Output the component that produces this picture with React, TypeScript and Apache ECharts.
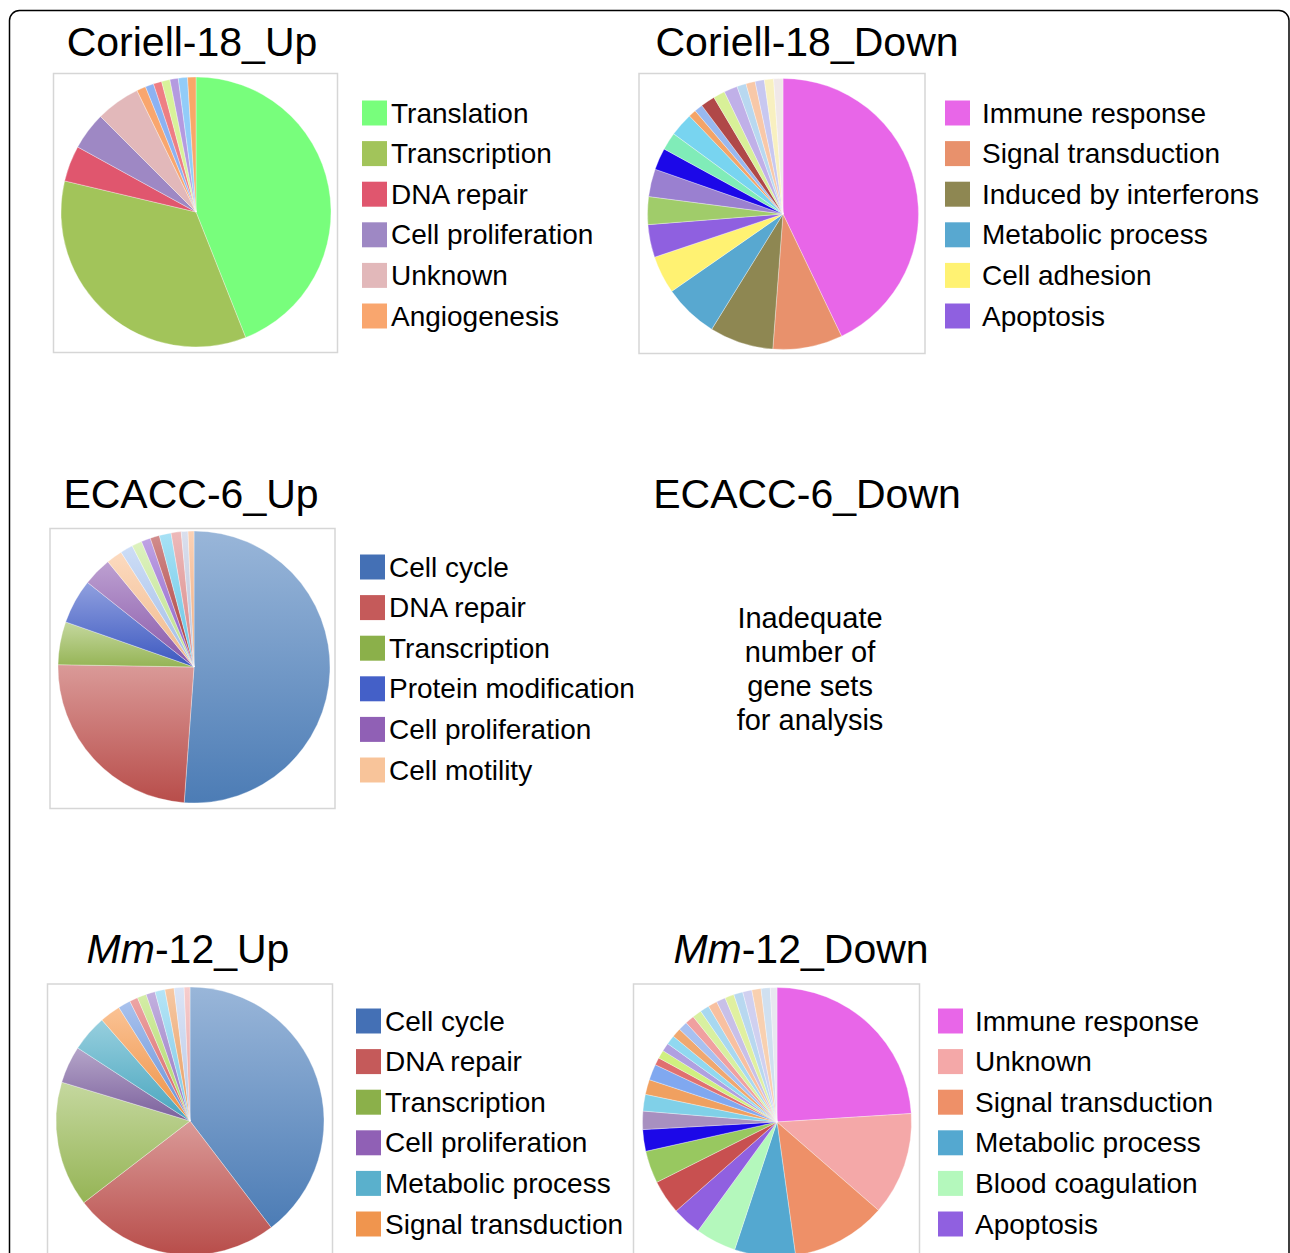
import React, { useEffect, useRef } from "react";
import * as echarts from "echarts";

const FONT = "'Liberation Sans', Arial, Helvetica, sans-serif";

// ---------- Coriell-18_Up ----------
const c18UpNames = ["Translation", "Transcription", "DNA repair", "Cell proliferation", "Unknown", "Angiogenesis",
  "Other a1", "Other a2", "Other a3", "Other a4", "Other a5", "Other a6"];
const c18UpValues = [44.0, 34.7, 4.3, 4.5, 5.3, 1.1, 1.0, 1.0, 1.0, 1.0, 1.1, 1.0];
const c18UpColors = ["#78FE7C", "#A2C45A", "#E0566E", "#9E88C4", "#E2B8BA", "#F9A66E",
  "#8CB2F2", "#EE7E84", "#D8F29A", "#B49AE0", "#92CCF8", "#F8A868"];

// ---------- Coriell-18_Down ----------
const c18DownNames = ["Immune response", "Signal transduction", "Induced by interferons", "Metabolic process", "Cell adhesion", "Apoptosis",
  "Other b1", "Other b2", "Other b3", "Other b4", "Other b5", "Other b6", "Other b7", "Other b8", "Other b9",
  "Other b10", "Other b11", "Other b12", "Other b13", "Other b14", "Other b15"];
const c18DownValues = [42.8, 8.3, 7.6, 6.5, 4.5, 3.9, 3.3, 3.3, 2.6, 2.1, 2.8, 0.9, 1.0, 1.7, 1.4, 1.6, 1.1, 1.1, 1.1, 1.1, 1.1];
const c18DownColors = ["#E866E8", "#E8916C", "#8E8752", "#58A8D0", "#FFF272", "#8F60E0",
  "#A0CC6A", "#9A80D0", "#1C08E8", "#80ECB8", "#78D4F0", "#F4A468", "#98B8F0", "#B04848", "#D8F098",
  "#C0B0E8", "#B8D8F0", "#F8C8A8", "#C8C8F0", "#F8F0C0", "#F0E8E8"];

// ---------- ECACC-6_Up ----------
const ecUpNames = ["Cell cycle", "DNA repair", "Transcription", "Protein modification", "Cell proliferation", "Cell motility",
  "Other c1", "Other c2", "Other c3", "Other c4", "Other c5", "Other c6", "Other c7", "Other c8"];
const ecUpValues = [51.1, 24.1, 5.1, 5.3, 3.4, 1.9, 1.5, 1.2, 1.1, 1.1, 1.4, 1.2, 0.8, 0.7];
const ecUpColors = ["#4F81BD", "#C0504D", "#9BBB59", "#3F5CC8", "#8E5CB0", "#F9C090",
  "#A8C4F0", "#C4E890", "#9060D0", "#B03838", "#68CCEE", "#E08888", "#C0C8E0", "#F8B080"];
const ecUpLegendColors = ["#4470B5", "#C55A5A", "#8BB04A", "#4460C8", "#9060B5", "#F8C49A"];

// ---------- Mm-12_Up ----------
const mmUpNames = ["Cell cycle", "DNA repair", "Transcription", "Cell proliferation", "Metabolic process", "Signal transduction",
  "Other d1", "Other d2", "Other d3", "Other d4", "Other d5", "Other d6", "Other d7", "Other d8"];
const mmUpValues = [39.6, 24.9, 15.1, 4.5, 4.4, 2.5, 1.5, 1.0, 1.1, 1.1, 1.2, 1.1, 1.2, 0.7];
const mmUpColors = ["#4F81BD", "#C0504D", "#9BBB59", "#8064A2", "#4BACC6", "#F79646",
  "#6A96E0", "#E06464", "#B4E068", "#9878C8", "#80D0F0", "#F0A060", "#C0D0F0", "#F0A8A8"];
const mmUpLegendColors = ["#4470B5", "#C55A5A", "#8BB04A", "#9060B5", "#5AB0CC", "#F0954E"];

// ---------- Mm-12_Down ----------
const mmDownNames = ["Immune response", "Unknown", "Signal transduction", "Metabolic process", "Blood coagulation", "Apoptosis",
  "Other e1", "Other e2", "Other e3", "Other e4", "Other e5", "Other e6", "Other e7", "Other e8", "Other e9",
  "Other e10", "Other e11", "Other e12", "Other e13", "Other e14", "Other e15", "Other e16", "Other e17",
  "Other e18", "Other e19", "Other e20", "Other e21", "Other e22", "Other e23", "Other e24"];
const mmDownValues = [24.0, 12.4, 11.4, 7.3, 4.9, 3.5, 4.1, 3.9, 2.6, 2.2, 2.0, 1.8, 1.9, 0.9, 1.0,
  1.0, 1.1, 1.1, 1.1, 1.1, 1.1, 1.1, 1.1, 1.1, 1.1, 1.1, 1.1, 1.1, 1.1, 0.8];
const mmDownColors = ["#E866E8", "#F4A8A8", "#EE9068", "#54A8D0", "#B4F8BC", "#9060E0",
  "#C85050", "#98C860", "#1C08E8", "#A890C0", "#80D0E8", "#F0A060", "#80A8F0", "#E07070", "#D0F080",
  "#B0A0E0", "#90D8F0", "#F0A870", "#A8C0F0", "#F0A0A0", "#D8F0A0", "#A8D8F0", "#F8C0A0", "#C8C0E8",
  "#E0F0A0", "#B8D8F0", "#D0D0F0", "#F8D0B0", "#D0E0F0", "#E8E8F0"];

const titles = ["Coriell-18_Up", "Coriell-18_Down", "ECACC-6_Up", "ECACC-6_Down", "{i|Mm}-12_Up", "{i|Mm}-12_Down"];
const noDataText = "Inadequate\nnumber of\ngene sets\nfor analysis";

function lighten(hex: string, t: number) {
  const n = parseInt(hex.slice(1), 16);
  const r = (n >> 16) & 255, g = (n >> 8) & 255, b = n & 255;
  const m = (v: number) => Math.round(v + (255 - v) * t);
  return `rgb(${m(r)},${m(g)},${m(b)})`;
}
function darken(hex: string, t: number) {
  const n = parseInt(hex.slice(1), 16);
  const r = (n >> 16) & 255, g = (n >> 8) & 255, b = n & 255;
  const m = (v: number) => Math.round(v * (1 - t));
  return `rgb(${m(r)},${m(g)},${m(b)})`;
}

function pieData(names: string[], values: number[], colors: string[], gradient: boolean) {
  return names.map((name, i) => ({
    name,
    value: values[i],
    itemStyle: {
      color: gradient
        ? {
            type: "linear", x: 0, y: 0, x2: 0, y2: 1,
            colorStops: [
              { offset: 0, color: lighten(colors[i], 0.42) },
              { offset: 1, color: darken(colors[i], 0.04) },
            ],
          }
        : colors[i],
    },
  }));
}

function pieSeries(center: [number, number], r: number, data: any[]) {
  return {
    type: "pie",
    center,
    radius: r,
    startAngle: 90,
    clockwise: true,
    silent: true,
    avoidLabelOverlap: false,
    label: { show: false },
    labelLine: { show: false },
    emphasis: { disabled: true },
    itemStyle: { borderColor: "rgba(255,255,255,0.55)", borderWidth: 0.6 },
    data,
  };
}

function legend(left: number, top: number, names: string[], colors: string[], textGap: number) {
  return {
    orient: "vertical",
    left,
    top,
    itemWidth: 25,
    itemHeight: 25,
    itemGap: 12.6,
    icon: "rect",
    selectedMode: false,
    padding: 0,
    itemStyle: { borderWidth: 0 },
    textStyle: { fontSize: 28, fontFamily: FONT, color: "#000", padding: [0, 0, 0, textGap] },
    data: names.slice(0, 6).map((name, i) => ({ name, itemStyle: { color: colors[i], borderWidth: 0 } })),
  };
}

function boxFrame(x: number, y: number, w: number, h: number) {
  return {
    type: "rect",
    z: 0,
    shape: { x, y, width: w, height: h },
    style: { fill: "none", stroke: "#D6D6D6", lineWidth: 1.5 },
  };
}

function title(text: string, x: number, y: number) {
  return {
    type: "text",
    z: 5,
    x,
    y,
    style: {
      text,
      fill: "#000",
      fontSize: 41,
      fontFamily: FONT,
      align: "center",
      verticalAlign: "middle",
      textAlign: "center",
      textVerticalAlign: "middle",
      rich: { i: { fontStyle: "italic", fontSize: 41, fontFamily: FONT, fill: "#000" } },
    },
  };
}

export default function App() {
  const ref = useRef<HTMLDivElement>(null);
  useEffect(() => {
    if (!ref.current) return;
    const chart = echarts.init(ref.current, undefined, { renderer: "svg" });
    chart.setOption({
      animation: false,
      backgroundColor: "#fff",
      legend: [
        legend(362, 99, c18UpNames, c18UpColors, -1),
        legend(945, 99, c18DownNames, c18DownColors, 7),
        legend(360, 553, ecUpNames, ecUpLegendColors, -1),
        legend(356, 1007, mmUpNames, mmUpLegendColors, -1),
        legend(938, 1007, mmDownNames, mmDownColors, 7),
      ],
      series: [
        pieSeries([196, 212], 135, pieData(c18UpNames, c18UpValues, c18UpColors, false)),
        pieSeries([783, 214], 135.5, pieData(c18DownNames, c18DownValues, c18DownColors, false)),
        pieSeries([194, 667], 136, pieData(ecUpNames, ecUpValues, ecUpColors, true)),
        pieSeries([190, 1121], 134, pieData(mmUpNames, mmUpValues, mmUpColors, true)),
        pieSeries([777, 1122], 134.5, pieData(mmDownNames, mmDownValues, mmDownColors, false)),
      ],
      graphic: [
        {
          type: "rect",
          z: 0,
          shape: { x: 9.5, y: 10.5, width: 1279.5, height: 1320, r: 10 },
          style: { fill: "none", stroke: "#000", lineWidth: 1.5 },
        },
        boxFrame(53.5, 73.5, 284, 279),
        boxFrame(639, 73.5, 286, 280),
        boxFrame(50, 528.5, 285, 280),
        boxFrame(47.5, 984, 285, 300),
        boxFrame(633.5, 984, 286, 300),
        title(titles[0], 192, 42),
        title(titles[1], 807, 42),
        title(titles[2], 191, 494),
        title(titles[3], 807, 494),
        title(titles[4], 188, 949),
        title(titles[5], 801, 949),
        {
          type: "text",
          z: 5,
          x: 810,
          y: 669,
          style: {
            text: noDataText,
            fill: "#000",
            fontSize: 29,
            lineHeight: 34,
            fontFamily: FONT,
            align: "center",
            verticalAlign: "middle",
            textAlign: "center",
            textVerticalAlign: "middle",
          },
        },
      ],
    });
    return () => chart.dispose();
  }, []);
  return (
    <div
      ref={ref}
      style={{ position: "absolute", left: 0, top: 0, width: 1290, height: 1253 }}
    />
  );
}
